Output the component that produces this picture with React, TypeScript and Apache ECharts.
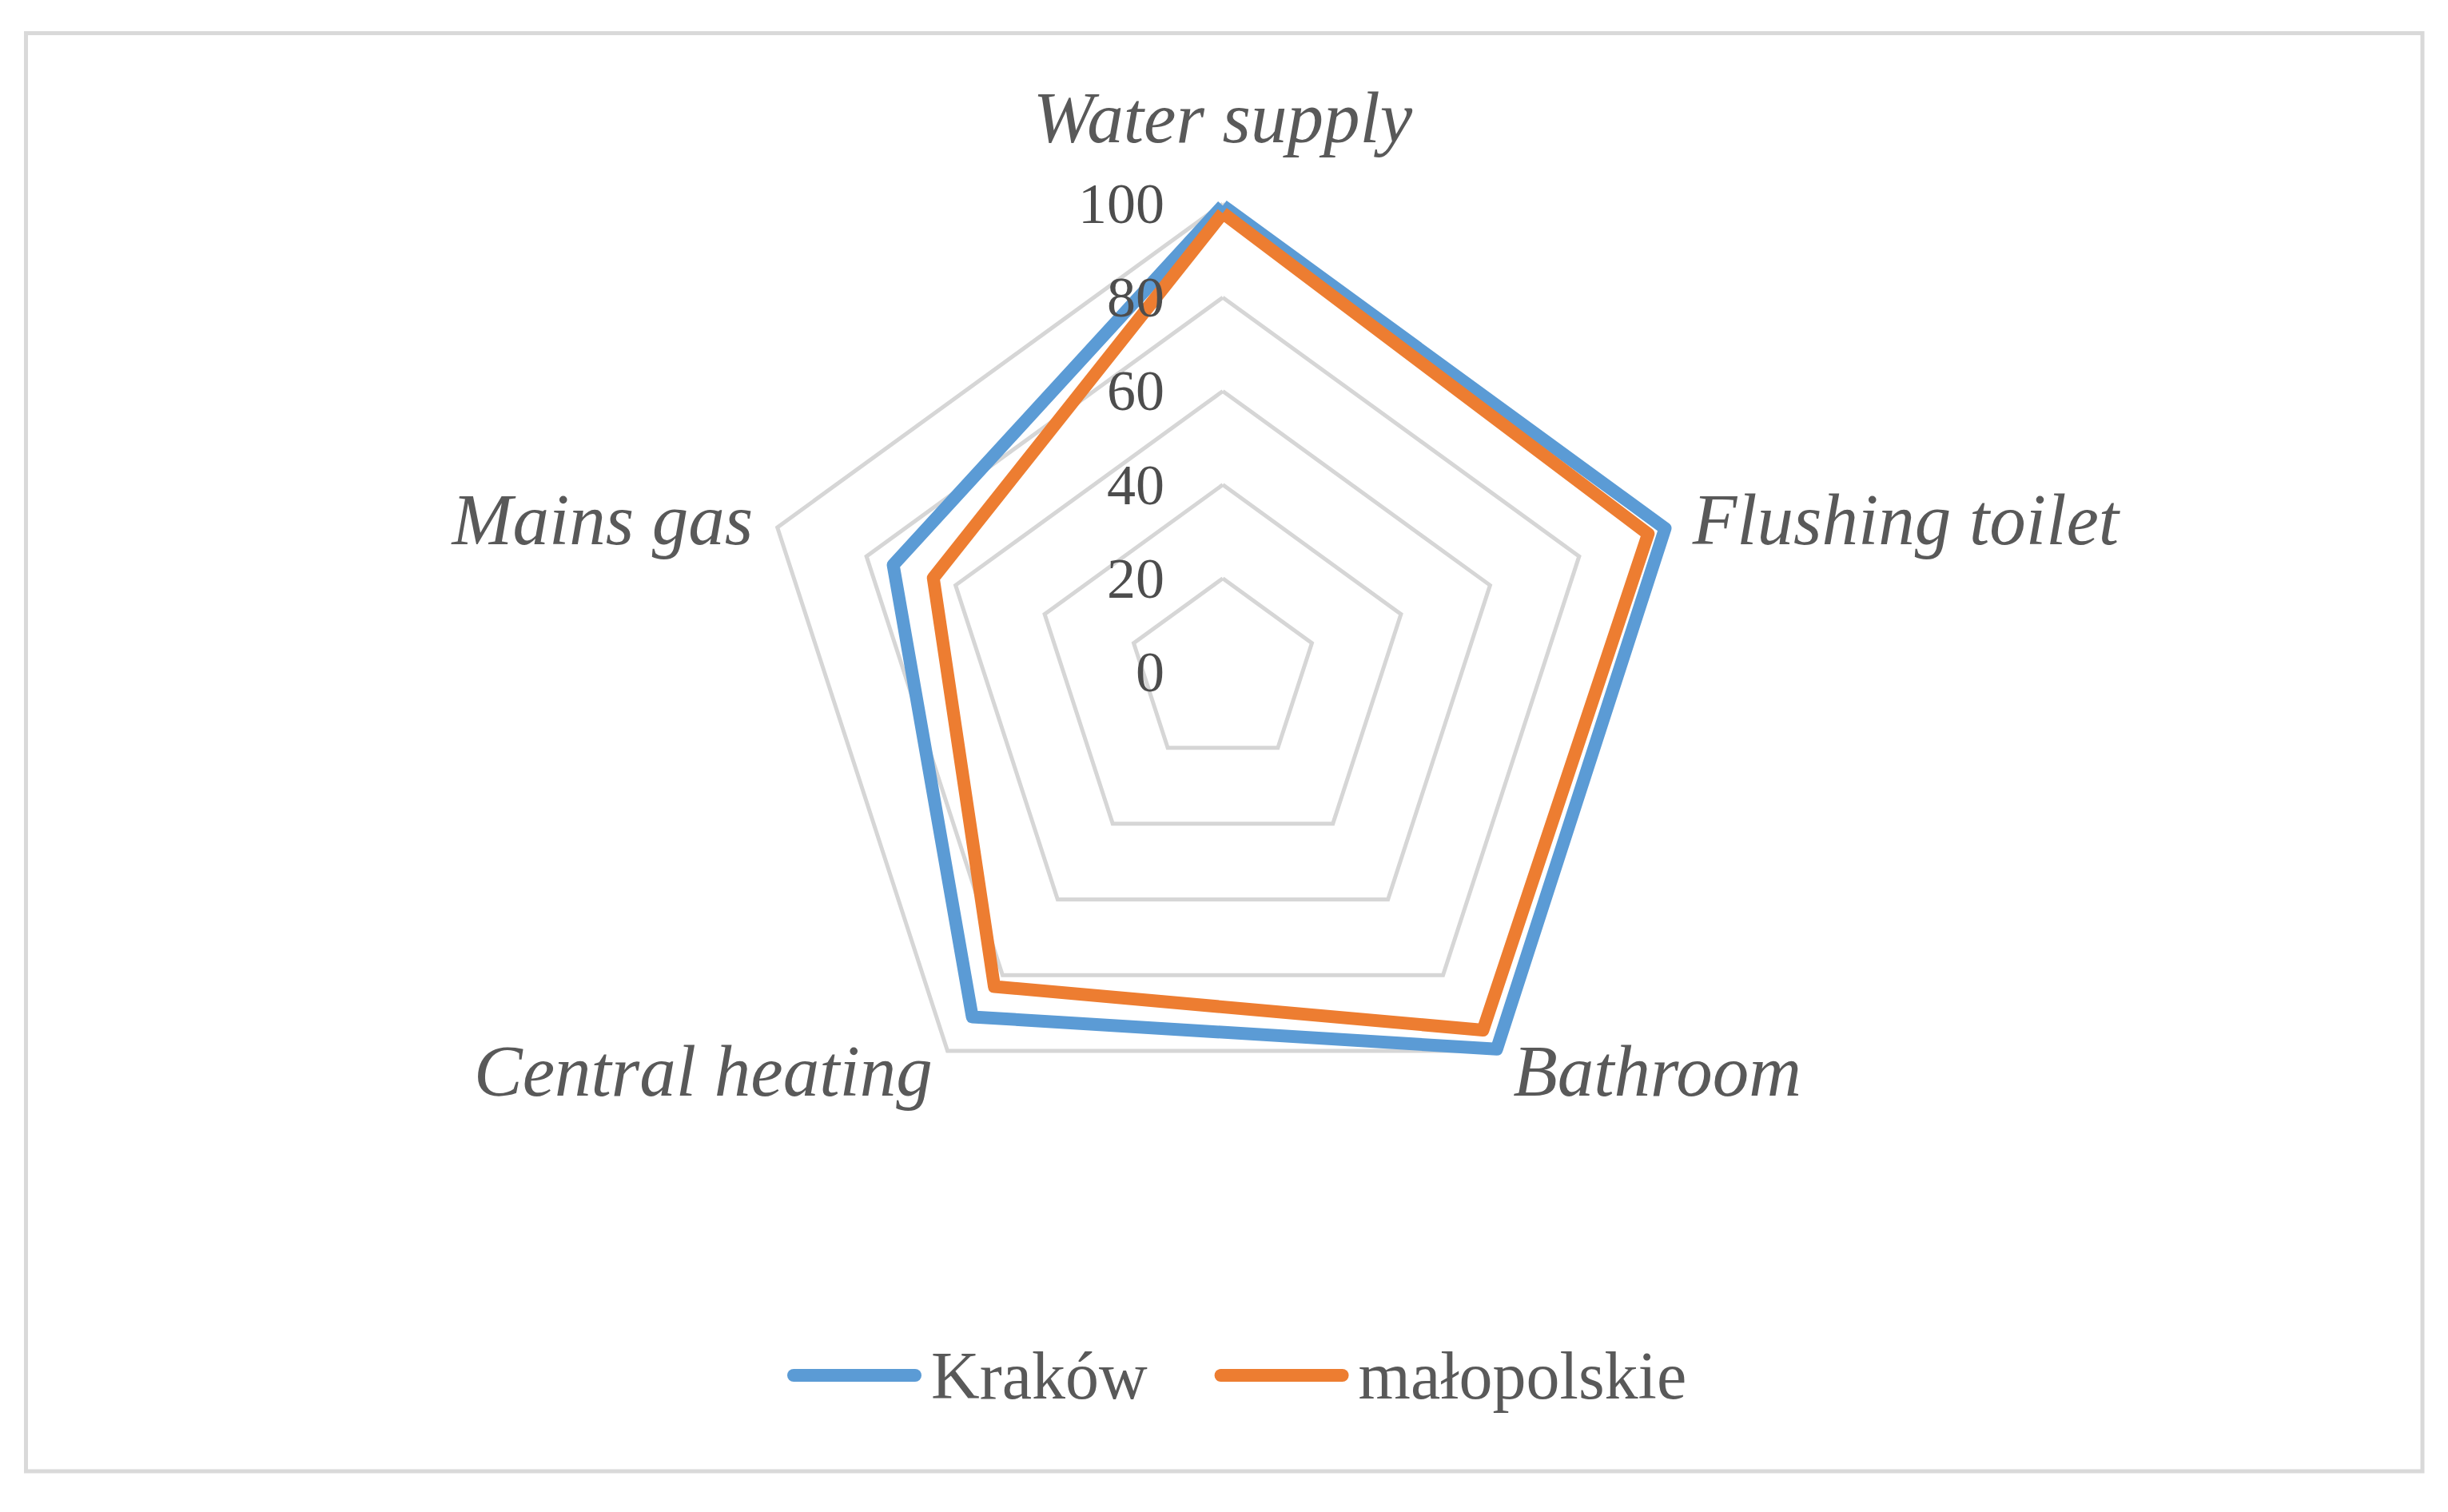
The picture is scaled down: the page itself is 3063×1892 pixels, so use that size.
import React, { useEffect, useRef } from "react";
import * as echarts from "echarts";

// Categories in clockwise order, starting at the top
const categories = ["Water supply", "Flushing toilet", "Bathroom", "Central heating", "Mains gas"];
const seriesNames = ["Kraków", "małopolskie"];
const krakowValues = [99.6, 99.3, 99.5, 91, 74];
const malopolskieValues = [98, 95.5, 94.5, 83, 65];
const axisMin = 0;
const axisMax = 100;
const seriesColors = ["#5B9BD5", "#ED7D31"];

// ECharts radar runs counter-clockwise; reorder so the chart reads clockwise
const order = [0, 4, 3, 2, 1];

export default function App() {
  const ref = useRef<HTMLDivElement>(null);
  useEffect(() => {
    if (!ref.current) return;
    const chart = echarts.init(ref.current, null, { renderer: "svg" });
    const textColor = "#595959";
    const serif = "'Liberation Serif', 'DejaVu Serif', serif";
    const values = [krakowValues, malopolskieValues];
    const baseRadar = {
      center: [1530, 841],
      radius: 586,
      startAngle: 90,
      shape: "polygon",
      splitNumber: 5,
      axisLine: { show: false },
      axisTick: { show: false },
      axisLabel: { show: false },
      splitArea: { show: false },
    };
    chart.setOption({
      animation: false,
      backgroundColor: "#ffffff",
      graphic: [
        {
          type: "rect",
          silent: true,
          z: 0,
          shape: { x: 32.5, y: 41.5, width: 2998.5, height: 1799.5 },
          style: { fill: "none", stroke: "#d9d9d9", lineWidth: 5 },
        },
      ],
      legend: {
        data: seriesNames,
        left: 980,
        top: 1674,
        itemWidth: 168,
        itemHeight: 16,
        itemGap: 84,
        icon: "path://M8,0H160A8,8,0,0,1,160,16H8A8,8,0,0,1,8,0Z",
        textStyle: { color: textColor, fontFamily: serif, fontSize: 84, padding: [0, 0, 0, 7] },
      },
      radar: [
        {
          ...baseRadar,
          z: 1,
          nameGap: 32,
          axisName: {
            color: textColor,
            fontFamily: serif,
            fontStyle: "italic",
            fontSize: 91,
          },
          splitLine: { lineStyle: { color: "#d6d6d6", width: 5 } },
          indicator: order.map((k) => ({
            name: categories[k],
            min: axisMin,
            max: axisMax,
            ...(k === 0 ? { nameGap: 62 } : {}),
          })),
        },
        {
          ...baseRadar,
          z: 10,
          axisName: { show: false },
          splitLine: { show: false },
          indicator: order.map((k) =>
            k === 0
              ? {
                  name: categories[k],
                  min: axisMin,
                  max: axisMax,
                  axisLabel: {
                    show: true,
                    margin: 73,
                    color: "#4d4d4d",
                    fontFamily: serif,
                    fontSize: 72,
                  },
                }
              : { name: categories[k], min: axisMin, max: axisMax }
          ),
        },
      ],
      series: [
        {
          type: "radar",
          radarIndex: 0,
          z: 2,
          symbol: "none",
          data: seriesNames.map((name, i) => ({
            name,
            value: order.map((k) => values[i][k]),
            itemStyle: { color: seriesColors[i] },
            lineStyle: { color: seriesColors[i], width: 16, join: "round" },
          })),
        },
      ],
    });
    return () => chart.dispose();
  }, []);
  return (
    <div
      ref={ref}
      style={{ position: "fixed", left: 0, top: 0, width: 3063, height: 1892 }}
    />
  );
}
